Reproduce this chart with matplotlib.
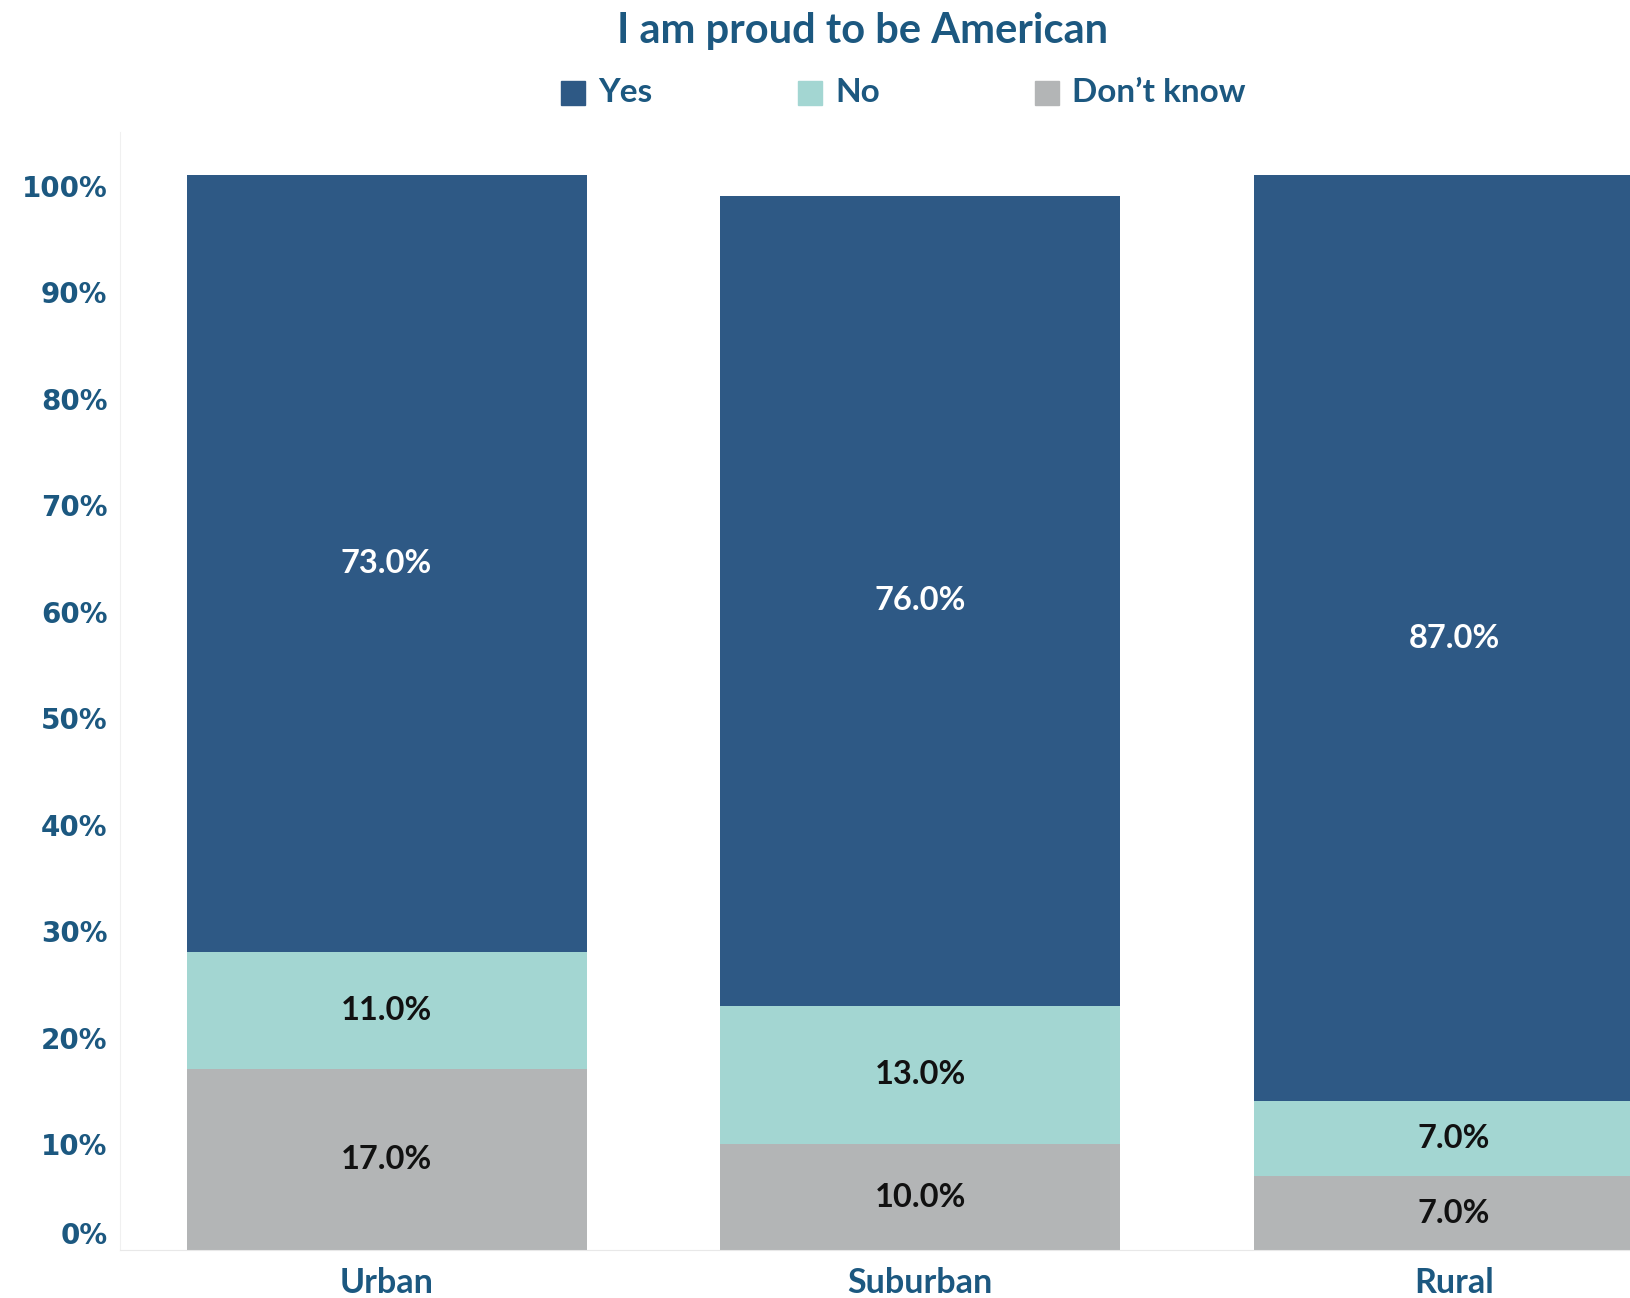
import matplotlib.pyplot as plt
import numpy as np
from matplotlib.patches import Rectangle

# dados
categorias = ['Urban', 'Suburban', 'Rural']
nao_sabe = [17, 10, 7]
nao = [11, 13, 7]
sim = [73, 76, 87]
ticks_y = [0, 10, 20, 30, 40, 50, 60, 70, 80, 90, 100]
legenda = ['Yes', 'No', "Don\u2019t know"]

cor_sim = '#2E5985'
cor_nao = '#A3D6D2'
cor_ns = '#B3B5B6'
cor_texto = '#1C5880'

plt.rcParams['font.family'] = ['Lato', 'DejaVu Sans']

fig = plt.figure(figsize=(16.3, 12.98), dpi=100)
ax = fig.add_axes([0.0735, 0.0366, 0.9265, 0.8614])

x = np.arange(len(categorias))
largura = 0.75
base_nao = np.array(nao_sabe)
base_sim = base_nao + np.array(nao)

ax.bar(x, nao_sabe, largura, color=cor_ns)
ax.bar(x, nao, largura, bottom=base_nao, color=cor_nao)
ax.bar(x, sim, largura, bottom=base_sim, color=cor_sim)

# rótulos dos segmentos
for i in range(len(categorias)):
    ax.text(x[i], nao_sabe[i] / 2, f'{nao_sabe[i]:.1f}%', ha='center', va='center',
            fontsize=23.5, fontweight='bold', color='#111111')
    ax.text(x[i], base_nao[i] + nao[i] / 2, f'{nao[i]:.1f}%', ha='center', va='center',
            fontsize=23.5, fontweight='bold', color='#111111')
    ax.text(x[i], base_sim[i] + sim[i] / 2, f'{sim[i]:.1f}%', ha='center', va='center',
            fontsize=23.5, fontweight='bold', color='white')

ax.set_xlim(-0.5, 2.33)
ax.set_ylim(0, 105)
ax.set_yticks(ticks_y)
ax.set_yticklabels([f'{t}%' for t in ticks_y], fontsize=20, fontweight='bold',
                   color=cor_texto, family='DejaVu Sans')
ax.get_yticklabels()[0].set_va('bottom')
ax.set_xticks(x)
ax.set_xticklabels(categorias, fontsize=24.5, fontweight='bold', color=cor_texto)
ax.tick_params(axis='both', length=0)
ax.tick_params(axis='y', pad=9)
ax.tick_params(axis='x', pad=12)

for lado in ['top', 'right']:
    ax.spines[lado].set_visible(False)
ax.spines['left'].set_color('#F0F0F0')
ax.spines['bottom'].set_color('#E8E8E8')

fig.text(0.529, 0.976, 'I am proud to be American', ha='center', va='center',
         fontsize=30, fontweight='bold', color=cor_texto)

# legenda manual
W, H = 1630, 1298
cores_leg = [cor_sim, cor_nao, cor_ns]
inicio = [561, 798, 1035]
y_leg = 92.5
lado_q = 24
for xi, cor, rot in zip(inicio, cores_leg, legenda):
    fig.add_artist(Rectangle((xi / W, 1 - (y_leg + lado_q / 2) / H), lado_q / W, lado_q / H,
                             transform=fig.transFigure, color=cor))
    fig.text((xi + 37) / W, 1 - y_leg / H, rot, ha='left', va='center',
             fontsize=24, fontweight='bold', color=cor_texto)

plt.savefig('out.png')
